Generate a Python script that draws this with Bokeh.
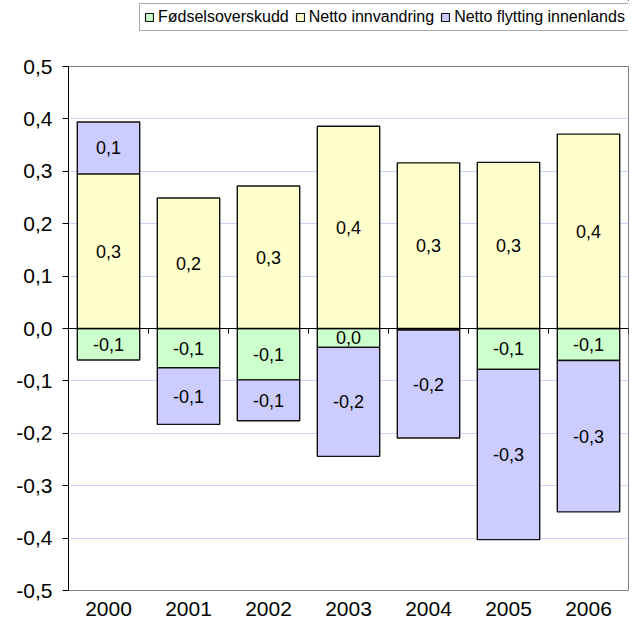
from bokeh.plotting import figure
from bokeh.layouts import column
from bokeh.models import (Range1d, FixedTicker, CustomJSTickFormatter, Legend,
                          LegendItem, Span, ColumnDataSource)
from bokeh.core.properties import value
from bokeh.embed import file_html
from bokeh.resources import INLINE

# ---- data -------------------------------------------------------------
years = ["2000", "2001", "2002", "2003", "2004", "2005", "2006"]
series_names = ["Fødselsoverskudd", "Netto innvandring", "Netto flytting innenlands"]
fodsel = [-0.060, -0.075, -0.098, -0.036, -0.003, -0.078, -0.061]
innvandring = [0.295, 0.249, 0.272, 0.386, 0.316, 0.317, 0.371]
flytting = [0.099, -0.108, -0.078, -0.208, -0.206, -0.325, -0.289]
y_ticks = [-0.5, -0.4, -0.3, -0.2, -0.1, 0.0, 0.1, 0.2, 0.3, 0.4, 0.5]

colors = ["#CCFFCC", "#FFFFCC", "#CCCCFF"]
FONT = "Liberation Sans"
OUTLINE = "#111111"
LEFT = 68
RIGHT = 8


def fmt(v):
    s = f"{v:.1f}"
    if s == "-0.0":
        s = "0.0"
    return s.replace(".", ",")


n = len(years)
xs = list(range(n))

# ---- main chart ---------------------------------------------------------
p = figure(width=636, height=579, output_backend="svg", toolbar_location=None,
           x_range=Range1d(-0.5, n - 0.5), y_range=Range1d(y_ticks[0], y_ticks[-1]),
           min_border_left=LEFT, min_border_right=RIGHT, min_border_top=21,
           min_border_bottom=34)
p.background_fill_color = "white"
p.border_fill_color = "white"
p.outline_line_color = "#808080"
p.outline_line_width = 1

p.xgrid.visible = False
p.ygrid.ticker = FixedTicker(ticks=y_ticks)
p.ygrid.grid_line_color = "#D2D2FF"
p.ygrid.grid_line_width = 1

pos = [0.0] * n
neg = [0.0] * n
for name, vals, col in zip(series_names, [fodsel, innvandring, flytting], colors):
    bottoms, tops = [], []
    for i, v in enumerate(vals):
        if v >= 0:
            b = pos[i]
            t = b + v
            pos[i] = t
        else:
            b = neg[i]
            t = b + v
            neg[i] = t
        bottoms.append(b)
        tops.append(t)
    src = ColumnDataSource(dict(
        x=xs, bottom=bottoms, top=tops,
        mid=[(b + t) / 2 for b, t in zip(bottoms, tops)],
        label=[fmt(v) for v in vals]))
    p.vbar(x="x", bottom="bottom", top="top", width=0.78, source=src,
           fill_color=col, line_color=OUTLINE, line_width=1.4)
    p.text(x="x", y="mid", text="label", source=src, text_align="center",
           text_baseline="middle", text_font=value(FONT), text_font_size="18px",
           text_color="black")

# zero line with category-boundary ticks
p.add_layout(Span(location=0, dimension="width", line_color="black", line_width=1))
bounds = [i - 0.5 for i in range(n + 1)]
p.segment(x0=bounds, x1=bounds, y0=[0] * len(bounds), y1=[-0.01] * len(bounds),
          line_color="black", line_width=1)

p.yaxis.ticker = FixedTicker(ticks=y_ticks)
p.yaxis.formatter = CustomJSTickFormatter(
    code="var s = tick.toFixed(1).replace('.', ','); return s === '-0,0' ? '0,0' : s;")
p.yaxis.axis_line_color = "black"
p.yaxis.major_tick_line_color = "black"
p.yaxis.major_tick_out = 6
p.yaxis.major_tick_in = 0
p.yaxis.minor_tick_line_color = None
p.yaxis.major_label_text_font = FONT
p.yaxis.major_label_text_font_size = "21px"
p.yaxis.major_label_text_color = "black"
p.yaxis.major_label_standoff = 10

p.xaxis.ticker = FixedTicker(ticks=xs)
p.xaxis.major_label_overrides = {i: y for i, y in zip(xs, years)}
p.xaxis.axis_line_color = None
p.xaxis.major_tick_line_color = None
p.xaxis.minor_tick_line_color = None
p.xaxis.major_label_text_font = FONT
p.xaxis.major_label_text_font_size = "21px"
p.xaxis.major_label_text_color = "black"
p.xaxis.major_label_standoff = 5

# ---- legend strip above the chart ----------------------------------------
lg = figure(width=636, height=45, output_backend="svg", toolbar_location=None,
            x_axis_type=None, y_axis_type=None,
            min_border_left=LEFT, min_border_right=0, min_border_top=0,
            min_border_bottom=0,
            x_range=Range1d(0, 1), y_range=Range1d(0, 1))
lg.outline_line_color = None
lg.grid.visible = False
lg.background_fill_color = "white"
lg.border_fill_color = "white"
items = []
for name, col in zip(series_names, colors):
    # proxy glyph for the legend key only (its point lies outside the view)
    r = lg.vbar(x=[5], bottom=[5], top=[6], width=0.5, fill_color=col,
                line_color=OUTLINE, line_width=1.2)
    items.append(LegendItem(label=name, renderers=[r]))
legend = Legend(items=items, orientation="horizontal", location=(71, 14),
                label_text_font=FONT, label_text_font_size="16px",
                label_text_color="black", label_height=16,
                glyph_width=10, glyph_height=10, label_standoff=4, spacing=6,
                padding=4, margin=0,
                border_line_color="#555555", border_line_width=1,
                background_fill_color="white", background_fill_alpha=1)
lg.add_layout(legend)

layout = column(lg, p, spacing=0)
open("out.html", "w").write(file_html(layout, INLINE))
